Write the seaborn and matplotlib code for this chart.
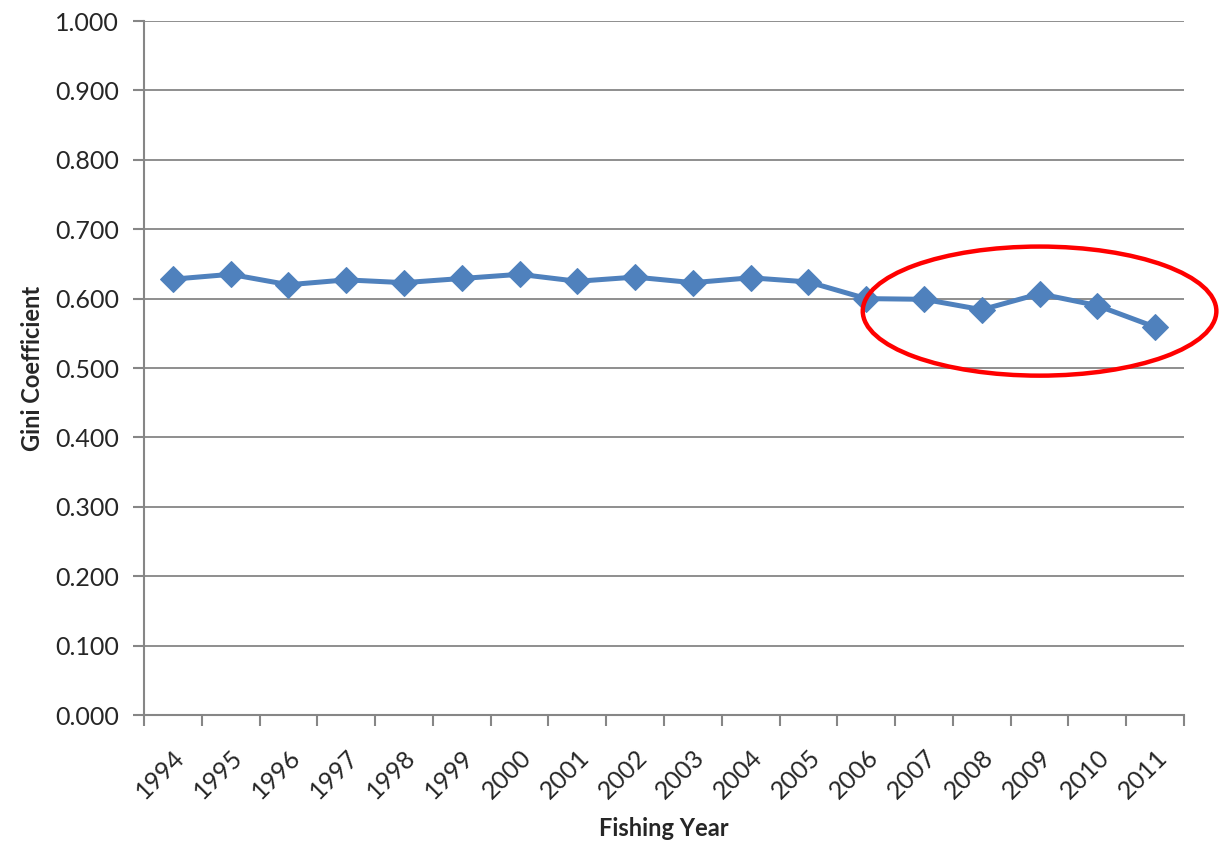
import matplotlib
matplotlib.use("Agg")
import matplotlib.pyplot as plt
from matplotlib.patches import Ellipse
import seaborn as sns
import pandas as pd
import numpy as np

years = [str(y) for y in range(1994, 2012)]
gini = [0.628, 0.635, 0.620, 0.627, 0.623, 0.629, 0.635, 0.625, 0.631,
        0.623, 0.630, 0.624, 0.600, 0.599, 0.584, 0.607, 0.590, 0.559]
y_ticks = [0.0, 0.1, 0.2, 0.3, 0.4, 0.5, 0.6, 0.7, 0.8, 0.9, 1.0]

sns.set_theme(style="white")
plt.rcParams['font.family'] = ['Lato', 'DejaVu Sans']

df = pd.DataFrame({"idx": np.arange(len(years)), "year": years, "gini": gini})

fig = plt.figure(figsize=(12.2, 8.51), dpi=100)
ax = fig.add_axes([0.118, 0.1598, 0.8525, 0.8155])

sns.lineplot(data=df, x="idx", y="gini", ax=ax, color="#4F81BD",
             linewidth=3.6, marker="D", markersize=13,
             markeredgecolor="#4F81BD", zorder=3)

ax.set_xlim(-0.5, len(years) - 0.5)
ax.set_ylim(0, 1.0)
ax.set_yticks(y_ticks)
ax.set_yticklabels([f"{v:.3f}" for v in y_ticks], fontsize=18)
ax.set_xticks(np.arange(len(years)))
ax.set_xticklabels(years, rotation=45, ha="right", rotation_mode="anchor", fontsize=18)
ax.set_xticks(np.arange(len(years) + 1) - 0.5, minor=True)
ax.tick_params(axis="x", which="major", length=0, pad=22)
ax.tick_params(axis="x", which="minor", length=8, width=1.5, color="#868686", bottom=True)
ax.tick_params(axis="y", which="major", length=8, width=1.5, color="#868686", left=True, pad=10)

ax.grid(axis="y", color="#868686", linewidth=1.3)
ax.grid(axis="x", visible=False)
for s in ["top", "right"]:
    ax.spines[s].set_visible(False)
for s in ["left", "bottom"]:
    ax.spines[s].set_color("#868686")
    ax.spines[s].set_linewidth(1.5)

ax.set_xlabel("Fishing Year", fontsize=17, fontweight="bold", labelpad=10)
ax.set_ylabel("Gini Coefficient", fontsize=17, fontweight="bold", labelpad=8)

ell = Ellipse((15.0, 0.582), width=6.12, height=0.186, fill=False,
              edgecolor="#FF0000", linewidth=3.2, clip_on=False, zorder=4)
ax.add_patch(ell)

fig.savefig("out.png", dpi=100)
